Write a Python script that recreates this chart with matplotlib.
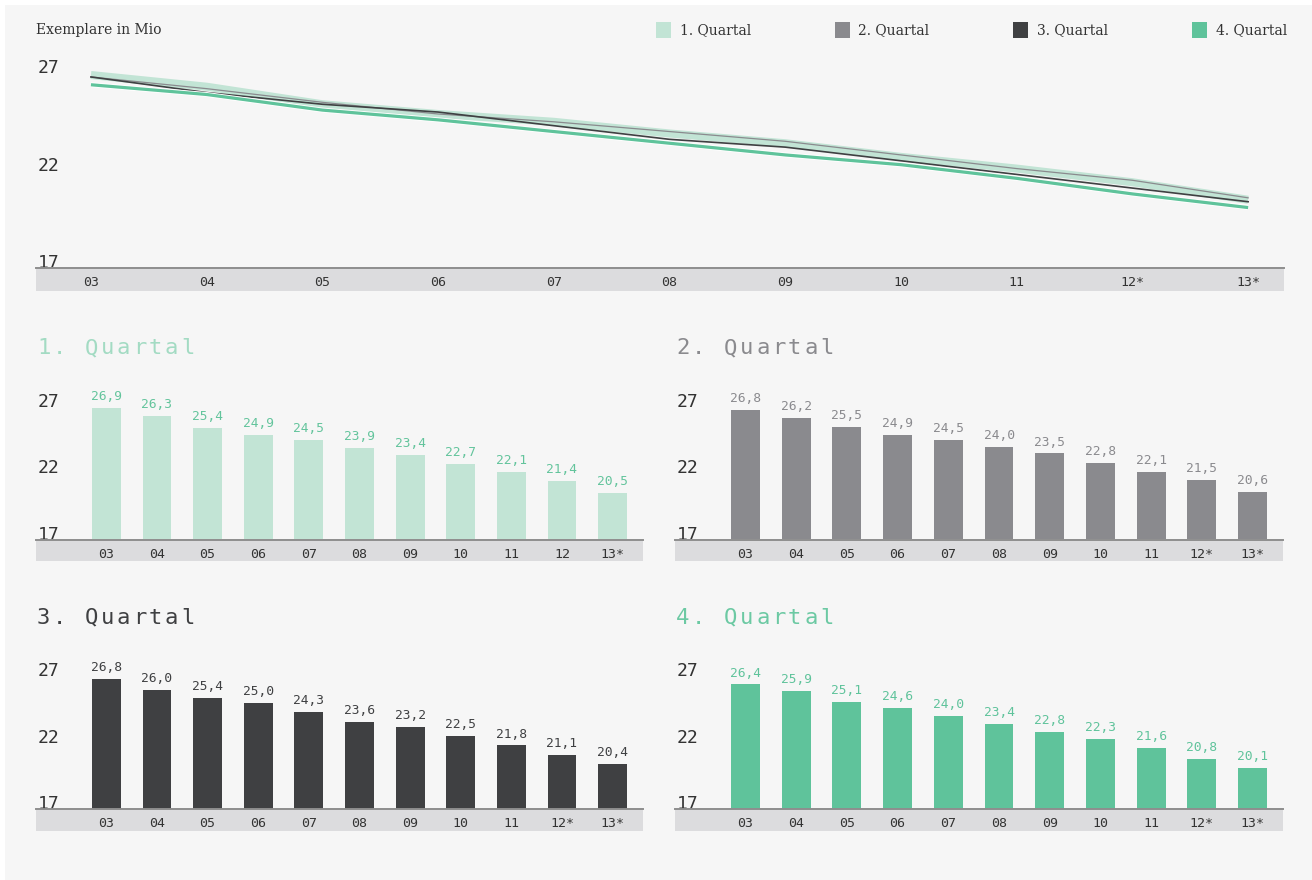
import matplotlib
matplotlib.use("Agg")
import matplotlib.pyplot as plt
from matplotlib.patches import Rectangle
import matplotlib.patheffects as pe

# Auflage je Quartal, Exemplare in Mio
jahre = ["03", "04", "05", "06", "07", "08", "09", "10", "11", "12*", "13*"]
jahre_q1 = ["03", "04", "05", "06", "07", "08", "09", "10", "11", "12", "13*"]
q1 = [26.9, 26.3, 25.4, 24.9, 24.5, 23.9, 23.4, 22.7, 22.1, 21.4, 20.5]
q2 = [26.8, 26.2, 25.5, 24.9, 24.5, 24.0, 23.5, 22.8, 22.1, 21.5, 20.6]
q3 = [26.8, 26.0, 25.4, 25.0, 24.3, 23.6, 23.2, 22.5, 21.8, 21.1, 20.4]
q4 = [26.4, 25.9, 25.1, 24.6, 24.0, 23.4, 22.8, 22.3, 21.6, 20.8, 20.1]
namen = ["1. Quartal", "2. Quartal", "3. Quartal", "4. Quartal"]
yticks = [17, 22, 27]

c_q1 = "#c2e4d5"
c_q2 = "#8a8a8e"
c_q3 = "#3f4042"
c_q4 = "#5fc39b"
c_bg = "#f6f6f6"
c_band = "#dcdcde"
c_axis = "#8e8e8e"
c_text = "#333333"
mono = "DejaVu Sans Mono"
serif = "DejaVu Serif"

W, H = 1312, 880
fig = plt.figure(figsize=(W / 100, H / 100), dpi=100)
fig.patch.set_facecolor("white")


def box(x0, y0, x1, y1):
    # pixel box (origin top left) -> figure fraction
    return [x0 / W, 1 - y1 / H, (x1 - x0) / W, (y1 - y0) / H]


def rect(x0, y0, x1, y1, color):
    fig.add_artist(Rectangle((x0 / W, 1 - y1 / H), (x1 - x0) / W, (y1 - y0) / H,
                             transform=fig.transFigure, facecolor=color,
                             edgecolor="none", zorder=0))


def spaced_text(x, y, s, step, **kw):
    # gesperrte Schrift: jedes Zeichen mit festem Abstand
    for i, ch in enumerate(s):
        fig.text((x + i * step) / W, 1 - y / H, ch, ha="left", va="center", **kw)


rect(5, 5, W, H, c_bg)


def style_axes(ax, labels, band, xsize):
    ax.set_facecolor("none")
    for s in ["top", "right", "left"]:
        ax.spines[s].set_visible(False)
    ax.spines["bottom"].set_color(c_axis)
    ax.spines["bottom"].set_linewidth(1.4)
    ax.spines["bottom"].set_zorder(5)
    ax.set_xticks(range(len(labels)))
    ax.set_xticklabels(labels, fontfamily=mono, fontsize=xsize, color=c_text)
    ax.tick_params(axis="x", length=0, pad=6)
    ax.set_yticks(yticks)
    ax.set_yticklabels([str(t) for t in yticks], fontfamily=mono, fontsize=13,
                       color=c_text)
    ax.tick_params(axis="y", length=0, pad=-1)
    for lab in ax.get_yticklabels():
        lab.set_ha("left")
        lab.set_va("baseline")
    rect(*band, c_band)


# Verlauf aller Quartale
ax = fig.add_axes(box(36, 60, 1284, 268))
ax.set_xlim(-0.475, 10.31)
ax.set_ylim(17, 27.67)
x = range(len(jahre))
ax.plot(x, q1, color=c_q1, lw=5.8, solid_capstyle="butt", zorder=2)
ax.plot(x, q2, color=c_q2, lw=0.9, zorder=3)
ax.plot(x, q3, color=c_q3, lw=1.2, zorder=3)
ax.plot(x, q4, color=c_q4, lw=2.3, solid_capstyle="butt", zorder=4,
        path_effects=[pe.Stroke(linewidth=3.6, foreground="white"), pe.Normal()])
style_axes(ax, jahre, (36, 269, 1284, 291), 9.5)

fig.text(36 / W, 1 - 30 / H, "Exemplare in Mio", fontfamily=serif, fontsize=10,
         color=c_text, va="center", ha="left")

# Legende
for i, (name, col) in enumerate(zip(namen, [c_q1, c_q2, c_q3, c_q4])):
    x0 = 656 + i * 178.5
    rect(x0, 22, x0 + 15, 38, col)
    fig.text((x0 + 24) / W, 1 - 30 / H, name, fontfamily=serif, fontsize=10,
             color=c_text, va="center", ha="left")

# Einzelne Quartale
panels = [
    (q1, jahre_q1, c_q1, "#a3dbc3", "#63c49c", 36, 643, 0),
    (q2, jahre, c_q2, c_q2, c_q2, 675, 1283, 0),
    (q3, jahre, c_q3, c_q3, c_q3, 36, 643, 269.5),
    (q4, jahre, c_q4, "#6cc9a3", "#5fc39b", 675, 1283, 269.5),
]
for k, (werte, labels, col, tcol, vcol, x0, x1, dy) in enumerate(panels):
    ax = fig.add_axes(box(x0, 385 + dy, x1, 539.5 + dy))
    ax.set_xlim(-1.39, 10.6)
    ax.set_ylim(17, 28.66)
    bars = ax.bar(range(len(werte)), [v - 17 for v in werte], bottom=17,
                  width=0.57, color=col, zorder=2)
    for b, v in zip(bars, werte):
        ax.annotate(f"{v:.1f}".replace(".", ","),
                    (b.get_x() + b.get_width() / 2, v),
                    xytext=(0, 3.5), textcoords="offset points",
                    ha="center", va="bottom", fontfamily=mono, fontsize=9.3,
                    color=vcol)
    style_axes(ax, labels, (x0, 540.5 + dy, x1, 561 + dy), 9.5)
    spaced_text(x0 + 1, 348 + dy, namen[k], 16, fontfamily=mono,
                fontsize=16, color=tcol)

fig.savefig("out.png", dpi=100, facecolor=fig.get_facecolor())
